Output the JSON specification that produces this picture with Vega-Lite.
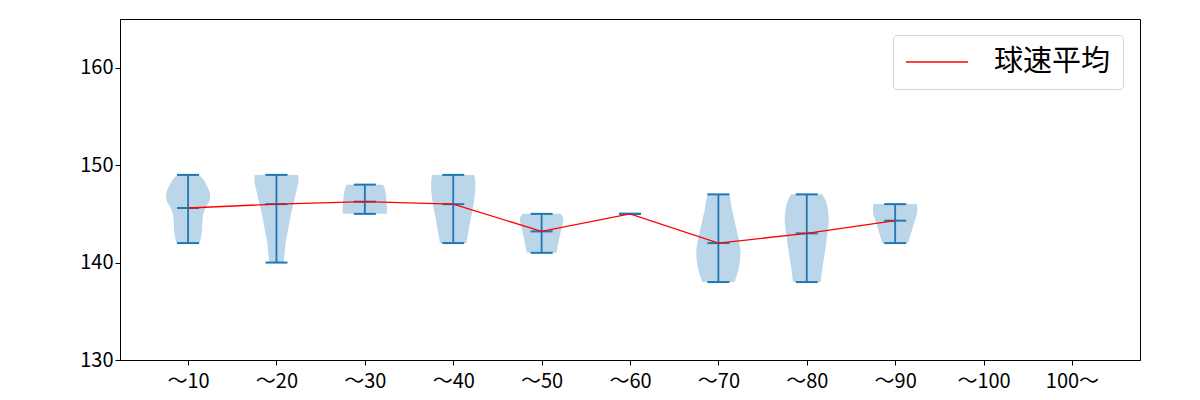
{
  "$schema": "https://vega.github.io/schema/vega-lite/v6.json",
  "width": 1020,
  "height": 341,
  "autosize": {"type": "none"},
  "padding": {"left": 120, "top": 19, "right": 60, "bottom": 40},
  "background": "white",
  "config": {
    "view": {"stroke": "black", "strokeWidth": 1},
    "font": "Noto Sans CJK JP",
    "axis": {
      "grid": false,
      "domainColor": "black",
      "tickColor": "black",
      "tickSize": 5,
      "labelColor": "black",
      "labelFontSize": 20,
      "labelFont": "Noto Sans CJK JP",
      "title": null
    }
  },
  "datasets": {
    "violin": [
      {"c": 1, "v": 149, "w": 0.5}, {"c": 1, "v": 148.5, "w": 0.7}, {"c": 1, "v": 148, "w": 0.83}, {"c": 1, "v": 147.4, "w": 0.95}, {"c": 1, "v": 146.8, "w": 1.0}, {"c": 1, "v": 146.2, "w": 0.95}, {"c": 1, "v": 145.9, "w": 0.86}, {"c": 1, "v": 145.4, "w": 0.75}, {"c": 1, "v": 144.9, "w": 0.68}, {"c": 1, "v": 144.2, "w": 0.65}, {"c": 1, "v": 143.5, "w": 0.64}, {"c": 1, "v": 142.8, "w": 0.6}, {"c": 1, "v": 142, "w": 0.53},
      {"c": 2, "v": 149, "w": 0.98}, {"c": 2, "v": 148.5, "w": 1.0}, {"c": 2, "v": 148, "w": 0.97}, {"c": 2, "v": 147.5, "w": 0.92}, {"c": 2, "v": 146.9, "w": 0.86}, {"c": 2, "v": 146.2, "w": 0.79}, {"c": 2, "v": 145.6, "w": 0.72}, {"c": 2, "v": 144.8, "w": 0.64}, {"c": 2, "v": 143.9, "w": 0.57}, {"c": 2, "v": 143, "w": 0.5}, {"c": 2, "v": 142.1, "w": 0.42}, {"c": 2, "v": 141, "w": 0.37}, {"c": 2, "v": 140, "w": 0.33},
      {"c": 3, "v": 148, "w": 0.83}, {"c": 3, "v": 147.7, "w": 0.88}, {"c": 3, "v": 147.4, "w": 0.92}, {"c": 3, "v": 146.8, "w": 0.96}, {"c": 3, "v": 146.25, "w": 0.98}, {"c": 3, "v": 145.6, "w": 1.0}, {"c": 3, "v": 145, "w": 1.0},
      {"c": 4, "v": 149, "w": 0.95}, {"c": 4, "v": 148.3, "w": 1.0}, {"c": 4, "v": 147.6, "w": 1.0}, {"c": 4, "v": 146.9, "w": 0.97}, {"c": 4, "v": 146.25, "w": 0.94}, {"c": 4, "v": 145.4, "w": 0.87}, {"c": 4, "v": 144.5, "w": 0.79}, {"c": 4, "v": 143.8, "w": 0.74}, {"c": 4, "v": 143.2, "w": 0.69}, {"c": 4, "v": 142.6, "w": 0.64}, {"c": 4, "v": 142, "w": 0.6},
      {"c": 5, "v": 145, "w": 0.86}, {"c": 5, "v": 144.7, "w": 0.95}, {"c": 5, "v": 144.4, "w": 0.98}, {"c": 5, "v": 144, "w": 0.96}, {"c": 5, "v": 143.5, "w": 0.9}, {"c": 5, "v": 143, "w": 0.85}, {"c": 5, "v": 142.5, "w": 0.8}, {"c": 5, "v": 141.8, "w": 0.74}, {"c": 5, "v": 141.1, "w": 0.68}, {"c": 5, "v": 141, "w": 0.67},
      {"c": 7, "v": 147, "w": 0.5}, {"c": 7, "v": 146.1, "w": 0.57}, {"c": 7, "v": 145.2, "w": 0.64}, {"c": 7, "v": 144.2, "w": 0.74}, {"c": 7, "v": 143.2, "w": 0.84}, {"c": 7, "v": 142.2, "w": 0.94}, {"c": 7, "v": 141.1, "w": 1.0}, {"c": 7, "v": 140.2, "w": 0.98}, {"c": 7, "v": 139.4, "w": 0.92}, {"c": 7, "v": 138.7, "w": 0.83}, {"c": 7, "v": 138, "w": 0.73},
      {"c": 8, "v": 147, "w": 0.7}, {"c": 8, "v": 146.5, "w": 0.83}, {"c": 8, "v": 145.9, "w": 0.92}, {"c": 8, "v": 145.2, "w": 0.97}, {"c": 8, "v": 144.5, "w": 1.0}, {"c": 8, "v": 143.6, "w": 0.97}, {"c": 8, "v": 142.8, "w": 0.92}, {"c": 8, "v": 141.9, "w": 0.87}, {"c": 8, "v": 141.1, "w": 0.82}, {"c": 8, "v": 140.2, "w": 0.76}, {"c": 8, "v": 139.4, "w": 0.7}, {"c": 8, "v": 138.7, "w": 0.66}, {"c": 8, "v": 138, "w": 0.63},
      {"c": 9, "v": 146, "w": 0.98}, {"c": 9, "v": 145.6, "w": 1.0}, {"c": 9, "v": 145.2, "w": 1.0}, {"c": 9, "v": 144.5, "w": 0.92}, {"c": 9, "v": 143.9, "w": 0.83}, {"c": 9, "v": 143, "w": 0.72}, {"c": 9, "v": 142.1, "w": 0.6}, {"c": 9, "v": 142, "w": 0.59}
    ],
    "stats": [
      {"c": 1, "label": "～10", "min": 142, "max": 149, "mean": 145.6},
      {"c": 2, "label": "～20", "min": 140, "max": 149, "mean": 146.0},
      {"c": 3, "label": "～30", "min": 145, "max": 148, "mean": 146.25},
      {"c": 4, "label": "～40", "min": 142, "max": 149, "mean": 146.0},
      {"c": 5, "label": "～50", "min": 141, "max": 145, "mean": 143.2},
      {"c": 6, "label": "～60", "min": 145, "max": 145, "mean": 145.0},
      {"c": 7, "label": "～70", "min": 138, "max": 147, "mean": 142.0},
      {"c": 8, "label": "～80", "min": 138, "max": 147, "mean": 143.0},
      {"c": 9, "label": "～90", "min": 142, "max": 146, "mean": 144.3}
    ]
  },
  "layer": [
    {
      "data": {"name": "violin"},
      "transform": [
        {"calculate": "datum.c - datum.w * 0.25", "as": "lo"},
        {"calculate": "datum.c + datum.w * 0.25", "as": "hi"}
      ],
      "mark": {"type": "area", "orient": "horizontal", "interpolate": "monotone", "fill": "#1f77b4", "fillOpacity": 0.3, "stroke": null},
      "encoding": {
        "y": {"field": "v", "type": "quantitative", "scale": {"domain": [130, 165], "nice": false, "zero": false}, "axis": {"values": [130, 140, 150, 160]}},
        "x": {"field": "lo", "type": "quantitative", "stack": null, "scale": {"domain": [0.23, 11.77], "nice": false, "zero": false},
              "axis": {"values": [1, 2, 3, 4, 5, 6, 7, 8, 9, 10, 11], "labelExpr": "['～10','～20','～30','～40','～50','～60','～70','～80','～90','～100','100～'][datum.value - 1]", "labelPadding": 6}},
        "x2": {"field": "hi"},
        "detail": {"field": "c", "type": "nominal"}
      }
    },
    {
      "data": {"name": "stats"},
      "mark": {"type": "rule", "color": "#1f77b4", "strokeWidth": 1.8},
      "encoding": {
        "x": {"field": "c", "type": "quantitative"},
        "y": {"field": "min", "type": "quantitative"},
        "y2": {"field": "max"}
      }
    },
    {
      "data": {"name": "stats"},
      "mark": {"type": "tick", "orient": "horizontal", "color": "#1f77b4", "size": 22, "thickness": 2, "opacity": 1},
      "encoding": {
        "x": {"field": "c", "type": "quantitative"},
        "y": {"field": "min", "type": "quantitative"}
      }
    },
    {
      "data": {"name": "stats"},
      "mark": {"type": "tick", "orient": "horizontal", "color": "#1f77b4", "size": 22, "thickness": 2, "opacity": 1},
      "encoding": {
        "x": {"field": "c", "type": "quantitative"},
        "y": {"field": "max", "type": "quantitative"}
      }
    },
    {
      "data": {"name": "stats"},
      "mark": {"type": "tick", "orient": "horizontal", "color": "#1f77b4", "size": 22, "thickness": 2, "opacity": 1},
      "encoding": {
        "x": {"field": "c", "type": "quantitative"},
        "y": {"field": "mean", "type": "quantitative"}
      }
    },
    {
      "data": {"name": "stats"},
      "mark": {"type": "line", "strokeWidth": 1.3},
      "encoding": {
        "x": {"field": "c", "type": "quantitative"},
        "y": {"field": "mean", "type": "quantitative"},
        "stroke": {
          "datum": "球速平均",
          "scale": {"range": ["red"]},
          "legend": {
            "title": null,
            "orient": "none",
            "legendX": 773,
            "legendY": 16,
            "padding": 12,
            "strokeColor": "#d5d5d5",
            "fillColor": "white",
            "cornerRadius": 4,
            "symbolType": "stroke",
            "symbolSize": 3844,
            "symbolStrokeWidth": 1.5,
            "clipHeight": 30,
            "labelFontSize": 29,
            "labelFont": "Noto Sans CJK JP",
            "labelOffset": 25,
            "labelColor": "black"
          }
        }
      }
    }
  ]
}
